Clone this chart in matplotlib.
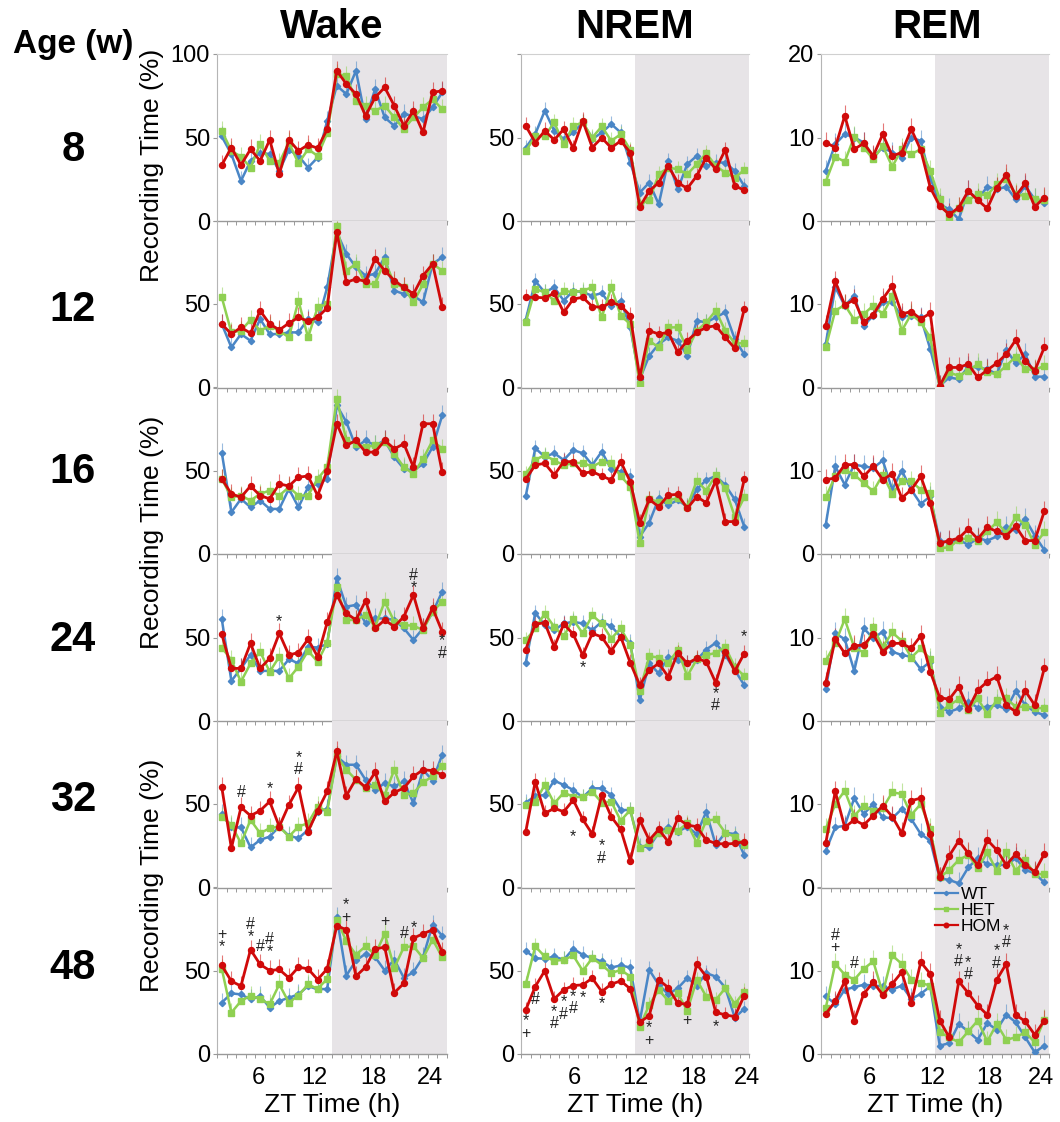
import matplotlib
matplotlib.use("Agg")
import matplotlib.pyplot as plt
from matplotlib.lines import Line2D

plt.rcParams['font.family'] = ['Liberation Sans', 'DejaVu Sans']

# ---------------- data ----------------
ages = ['8', '12', '16', '24', '32', '48']
states = ['Wake', 'NREM', 'REM']
genotypes = ['WT', 'HET', 'HOM']
zt = list(range(1, 25))
xtick_labels = ['6', '12', '18', '24']
# typical SEM shown as upper error bars, per state
sem_typ = {'Wake': 6.0, 'NREM': 5.0, 'REM': 1.3}

wake_wt = [
    [50.6, 40, 24, 36, 41, 40, 30, 42.6, 39, 32, 38, 60, 81, 76, 90, 61, 79, 62, 57, 64, 63, 61, 68, 77],
    [38, 24, 32, 28, 41, 32, 32, 33, 33, 41, 39, 60, 93, 80, 72, 67, 68, 78, 58, 56, 55, 51, 74, 78],
    [60.7, 25, 33, 28, 32, 27, 27, 39, 28, 40, 42, 45, 89, 79, 64, 68, 65, 68, 58, 51, 50, 54, 64, 83],
    [61, 24, 31.5, 39.5, 30, 30, 30, 37, 34.5, 44.5, 44, 46, 85.4, 68.5, 69.5, 58.5, 61.4, 61.4, 60.5, 55.5, 48.5, 55.5, 65, 77.5],
    [44, 36, 36, 24, 28.5, 30.5, 36.5, 31, 29.5, 34.5, 45.5, 47, 78.5, 73.5, 73.5, 64.5, 58.5, 62.5, 60.5, 63.5, 50.5, 70.5, 64, 79.5],
    [30.8, 36.3, 35.7, 32.7, 34.7, 27.8, 31.7, 33.7, 35.7, 40.7, 38.7, 39, 82, 47, 56, 60, 58, 50, 56.5, 45.6, 49, 58, 77.4, 70.8],
]
wake_het = [
    [54, 42, 38.5, 32, 46, 36, 35, 47, 34.5, 43, 39, 52.6, 88, 87, 72, 69, 66, 69, 62, 55, 62, 68, 73, 67],
    [54, 33, 34, 40.5, 34, 37, 34, 30, 52, 30, 48, 50, 97, 70, 74, 62, 62, 76, 62, 60, 51, 62, 74, 70],
    [45, 34, 35, 32, 36, 38, 35, 40, 35, 35, 45, 52, 93, 68, 66, 64, 65, 67, 60, 52, 48, 57, 68, 63],
    [44, 36.5, 23.5, 34.5, 41.5, 29.5, 38.5, 25.5, 32.5, 42, 35.5, 47, 80, 60.5, 60.5, 63.5, 56.5, 71.5, 59.5, 57.5, 57, 54.5, 65.5, 71.5],
    [42.5, 37.5, 26.5, 40.5, 32.5, 35.5, 36.5, 30.5, 36.5, 38.5, 48.5, 45.5, 78.5, 70.5, 64.5, 59.5, 61.5, 55.5, 70.5, 55.5, 56.5, 63, 66.5, 73],
    [51, 24.8, 31.7, 35, 33, 29.8, 41.7, 30.8, 35, 41.7, 39, 45, 80.4, 67.5, 59.5, 64.5, 59.5, 72, 51.6, 64, 64.5, 57.5, 68.5, 58],
]
wake_hom = [
    [33.5, 44, 33.5, 43, 36, 48.6, 28, 48.6, 42, 45.6, 43.6, 55, 90, 82, 76, 63, 74, 80, 69, 57, 66, 53, 77, 78],
    [38, 32, 36, 32.5, 46, 38, 34.5, 38.5, 42, 39.7, 42, 47.7, 93, 63, 65, 63.5, 77, 70, 64, 60, 56, 67, 74, 48],
    [45, 36, 34, 40.7, 35, 33, 42, 40.7, 46, 46.7, 35, 50, 78, 65, 68, 61, 61, 68, 63, 66, 52, 78, 78, 49],
    [52, 31.5, 31.5, 46.5, 31.5, 37.5, 52.5, 39.5, 41, 49, 38.5, 59, 75.5, 64.5, 60.5, 72, 55.5, 60.5, 56.5, 62.5, 75.5, 55.5, 67.5, 53.5],
    [60, 23.5, 48, 43, 46, 51.5, 36.5, 49.5, 60, 33.5, 46, 57.5, 81.5, 55, 65, 60, 69, 51.5, 57, 59.5, 66.5, 70.5, 70, 67.5],
    [53, 43.6, 40.7, 62.5, 53.6, 50, 50.6, 45.6, 52, 51, 44.6, 51, 76.8, 74.4, 46.6, 52, 62.9, 64, 36.7, 42.3, 69.4, 72, 74.4, 61],
]
nrem_wt = [
    [43.8, 52, 66, 54, 49, 53, 59, 49, 53, 58, 53, 35, 17, 23, 10, 36, 19, 34, 39, 33, 35, 35, 30, 21],
    [40.5, 63.7, 57, 60, 52, 58, 57, 55, 56.5, 49, 52, 36, 5, 19, 26, 30, 28, 19, 40, 39, 42, 45, 29, 19.8],
    [34.7, 63.3, 58.3, 60.3, 56.3, 62.3, 60.3, 53.3, 61.3, 50.7, 49.3, 46.7, 10.4, 18.8, 33.3, 29.3, 32.3, 28.3, 38.7, 44.3, 46.7, 41.3, 32.7, 16.4],
    [34.9, 64.7, 57.4, 54.4, 58.4, 59.4, 58.4, 54.4, 59.4, 56.8, 50.4, 46.8, 12.5, 34.5, 28.5, 38.4, 36.5, 34.5, 36.5, 42.8, 46.8, 39.4, 30.5, 21.5],
    [50.8, 54.8, 55.4, 64, 61.4, 58.4, 54, 59.4, 59.4, 55.4, 46.4, 46.4, 24.4, 24.4, 32.8, 36.4, 33.4, 36.4, 32, 45.4, 25.4, 32.8, 32, 19.4],
    [61.8, 57.4, 57, 58.4, 56.4, 63, 59.4, 57.4, 55.4, 51.8, 53, 51.8, 19.4, 50.4, 41.4, 35.8, 39.4, 45.4, 41, 48.4, 46.4, 39.8, 21.8, 27],
]
nrem_het = [
    [42, 50.6, 51, 59, 46, 57, 59, 50, 56.6, 48, 52, 42.6, 10, 12.4, 28, 32, 31, 28, 34, 40.6, 33, 29, 26, 30.5],
    [39, 59, 57, 52, 58, 57, 58, 60, 42, 60, 43, 38, 2.2, 28, 24, 36, 36, 22.5, 34, 39, 46, 34, 26.5, 26.5],
    [47.9, 56.3, 59.3, 55.9, 53.3, 54.3, 54.7, 52.3, 55.3, 54.3, 46.7, 40.3, 6.4, 32.7, 31.3, 32.3, 33.3, 28.3, 43.9, 37.9, 47.3, 39.3, 22.4, 33.9],
    [48.4, 55.4, 64.3, 56.4, 50.8, 60.8, 52.4, 63.3, 58.4, 49.4, 55.4, 45.4, 18.1, 38.8, 38, 34.9, 42.4, 26.9, 36.9, 39.4, 40.8, 44.4, 32.5, 26.9],
    [49.4, 51.4, 61.4, 50.4, 56.8, 54.4, 54, 57.4, 50.8, 51.4, 40, 46.4, 23.4, 26.4, 32.4, 34.4, 34, 38.4, 26.8, 40, 40.8, 32.8, 30.4, 25.4],
    [41.8, 64.4, 58.4, 55.8, 56.4, 59, 49.8, 57.4, 53.4, 48.4, 50.4, 46.4, 16.4, 29.4, 38.4, 31.8, 36.4, 25.8, 44.4, 34.4, 32.4, 39.4, 29.8, 37.4],
]
nrem_hom = [
    [57, 47, 54, 48.6, 55, 43.6, 60, 44, 49.8, 43.8, 48, 41, 8.4, 18, 23, 33, 23, 19.5, 27, 38, 31, 42.6, 21, 18.5],
    [54, 54, 53.7, 56.5, 45, 53, 54, 48.5, 48, 51, 49, 43, 6.2, 34, 32, 33, 21, 28, 33, 36, 37, 30, 23.5, 47],
    [44.7, 53.3, 54.3, 47.3, 55.3, 55.3, 48.3, 49.3, 46.7, 44.3, 55.3, 43.3, 18.8, 32.7, 28.3, 35.3, 35.7, 27.3, 34.3, 30.7, 43.9, 19.4, 19.4, 44.7],
    [42.8, 58, 58.8, 44.4, 58, 52, 39.4, 52.4, 50.4, 42, 50.4, 34.9, 21.5, 30.5, 34.5, 26.5, 40.8, 34.5, 37.5, 35.5, 22.9, 41.4, 29.9, 40.4],
    [33.4, 63.4, 44.4, 47.4, 45.4, 52.4, 40.8, 32, 55.4, 42.4, 34.8, 16, 40.4, 28.4, 34.8, 27.4, 41.4, 37.4, 36.4, 28.4, 26.4, 26, 26.4, 27.4],
    [26.4, 40.4, 49.8, 33, 38.4, 41, 41.4, 45.4, 37.4, 41.8, 43.8, 39, 19, 23, 44.4, 39.8, 30.4, 29.8, 53.8, 46.4, 25, 23.4, 22.4, 35],
]
rem_wt = [
    [6, 9.2, 10.4, 10, 9.4, 7.7, 8.8, 8.2, 7.6, 10, 9.6, 5.2, 2, 1.4, 0.2, 3.6, 2.6, 4.1, 3.8, 4.1, 2.6, 4.2, 2.6, 2.1],
    [5.2, 12, 9.8, 11, 7.4, 8.6, 10.2, 10.2, 8.5, 8.6, 8.4, 4.6, 0.2, 1.2, 1, 2.5, 2.4, 2.2, 1.6, 4.5, 2.9, 4, 1.3, 1.3],
    [3.5, 10.5, 8.3, 10.7, 10.5, 10.3, 11.2, 7.7, 10, 7.7, 6, 6.9, 1.5, 1.4, 1.7, 1.1, 1.9, 1.6, 2.1, 3.2, 2.9, 4.2, 2.2, 0.5],
    [3.8, 10.5, 9.8, 6, 11.1, 9.9, 10.7, 8.3, 7.9, 7.7, 6.2, 7.1, 1.7, 1.1, 1.5, 2.3, 1.6, 1.7, 1.9, 1.4, 3.6, 1.9, 1.1, 0.7],
    [4.4, 7.2, 7.4, 10.7, 8.8, 10, 8.4, 8.3, 9.4, 8.2, 6.4, 5.6, 1.1, 0.9, 0.5, 2.4, 3.5, 2.8, 2.7, 2.7, 3.5, 2.1, 1.7, 0.6],
    [6.9, 6, 7.7, 8, 8.3, 8.2, 8.1, 7.7, 8.2, 6.6, 7.2, 8.1, 1, 1.3, 3.6, 2.7, 1.7, 3.7, 2.9, 4.7, 3.8, 2, 0.2, 1],
]
rem_het = [
    [4.7, 7.7, 7.1, 10.1, 8.8, 7.4, 9, 6.5, 8.6, 8, 8.6, 6, 2.6, 0.4, 1.6, 2.5, 3.2, 3.1, 4.4, 5, 3.2, 3, 2.6, 2.5],
    [4.8, 9.2, 9.9, 8.1, 8.8, 9.8, 8.8, 10.9, 6.8, 8.8, 7.8, 6, 0, 1.8, 1.4, 2, 2.8, 1.8, 1.6, 2.6, 3.7, 2.2, 2.1, 2.6],
    [6.8, 9.3, 10.1, 9.5, 8.5, 7.5, 9.5, 7.2, 8.7, 8.7, 7.7, 7.3, 0.7, 0.8, 1.7, 1.9, 1.6, 2.7, 3.8, 2.5, 4.4, 3.5, 1.1, 2.6],
    [7.2, 9.3, 12.2, 8.8, 8.2, 11.2, 8.9, 10.6, 9.6, 7.6, 8.7, 7.4, 1, 1.9, 2.6, 1.3, 2.7, 0.8, 2.5, 2.7, 1.7, 1.7, 1.6, 1.5],
    [7, 10, 11.6, 8.6, 9.8, 9.2, 9.5, 11.4, 11.2, 8.7, 10, 7, 1.2, 2.1, 3.3, 3.9, 2.3, 4.2, 2, 4.2, 2, 3.3, 1.6, 1.6],
    [5.5, 10.8, 9.5, 8.9, 10.2, 11.1, 7.3, 11.8, 10.8, 8.9, 8.5, 8.2, 2.6, 2, 1.4, 2.7, 4, 1.5, 3.6, 1.7, 2, 2.6, 1.4, 4.1],
]
rem_hom = [
    [9.4, 8.8, 12.6, 8.6, 9.3, 7.8, 10.4, 7.8, 8.2, 11, 8.5, 4, 1.8, 0.8, 1.6, 3.6, 2.5, 1.5, 4, 5.5, 3, 4.5, 1.7, 2.8],
    [7.4, 12.7, 9.9, 10.5, 7.8, 8.7, 10.6, 12.2, 8.8, 9.1, 8.2, 8.9, 0.2, 2.4, 2.4, 2.8, 1.2, 2.1, 2.9, 4, 5.7, 3.2, 2, 4.8],
    [8.9, 9.1, 10.7, 10.7, 9.3, 10.5, 8.9, 9.6, 6.7, 7.7, 9.3, 6.1, 1.3, 1.6, 1.9, 3, 1.8, 3.2, 2.7, 2.2, 3.3, 1.6, 1.6, 5.1],
    [4.6, 9.8, 8.1, 9, 9.1, 10.4, 8.3, 9.3, 9.3, 8.7, 10.2, 5.9, 2.8, 2.6, 4.1, 1.4, 3.7, 4.7, 5.3, 1.9, 1.1, 3.6, 1.9, 6.3],
    [5.3, 11.5, 7.2, 8.1, 7.5, 8.6, 9.8, 8.5, 6.5, 10.4, 10.7, 6.4, 1.2, 3.8, 5.6, 4.1, 2.7, 5.7, 4.5, 2.7, 4, 2.7, 1.9, 4],
    [4.8, 6.3, 8.7, 4, 7.2, 8.6, 7.1, 8.4, 9.8, 6.1, 11, 9.6, 4, 2, 8.7, 7.3, 5.8, 4.7, 8.9, 10.8, 4.7, 3.9, 2.3, 4],
]

# significance marks: (state, age row, ZT hour, y value, symbol)
sig_marks = [
    ('Wake', 3, 7, 62, '*'), ('Wake', 3, 21, 90, '#'), ('Wake', 3, 21, 82.4, '*'),
    ('Wake', 3, 24, 48, '*'), ('Wake', 3, 24, 42, '#'),
    ('Wake', 4, 3, 57, '#'), ('Wake', 4, 6, 61.5, '*'), ('Wake', 4, 9, 78.5, '*'), ('Wake', 4, 9, 71.5, '#'),
    ('Wake', 5, 1, 73.4, '+'), ('Wake', 5, 1, 67.5, '*'), ('Wake', 5, 4, 80.4, '#'), ('Wake', 5, 4, 72.4, '*'),
    ('Wake', 5, 5, 64.5, '#'), ('Wake', 5, 6, 71.4, '#'), ('Wake', 5, 6, 63.5, '*'),
    ('Wake', 5, 14, 89, '*'), ('Wake', 5, 14, 84, '+'), ('Wake', 5, 18, 79.4, '+'),
    ('Wake', 5, 20, 72.4, '#'), ('Wake', 5, 21, 78.4, '*'),
    ('NREM', 3, 7, 34.5, '*'), ('NREM', 3, 21, 17.5, '*'), ('NREM', 3, 21, 10, '#'), ('NREM', 3, 24, 52.8, '*'),
    ('NREM', 4, 6, 32.8, '*'), ('NREM', 4, 9, 25.4, '*'), ('NREM', 4, 9, 18.4, '#'),
    ('NREM', 5, 1, 19.8, '*'), ('NREM', 5, 1, 14.4, '+'), ('NREM', 5, 2, 32.4, '#'),
    ('NREM', 5, 4, 26.4, '*'), ('NREM', 5, 4, 19, '#'), ('NREM', 5, 5, 31.4, '*'), ('NREM', 5, 5, 25, '#'),
    ('NREM', 5, 6, 35.4, '*'), ('NREM', 5, 6, 27.8, '#'), ('NREM', 5, 7, 36.2, '*'), ('NREM', 5, 9, 32.4, '*'),
    ('NREM', 5, 14, 15.8, '*'), ('NREM', 5, 14, 9.8, '+'), ('NREM', 5, 18, 19.8, '+'), ('NREM', 5, 21, 19, '*'),
    ('REM', 5, 2, 14.1, '#'), ('REM', 5, 2, 12.9, '+'), ('REM', 5, 4, 10.8, '#'),
    ('REM', 5, 15, 12.6, '*'), ('REM', 5, 15, 11.3, '#'), ('REM', 5, 16, 11.1, '*'), ('REM', 5, 16, 9.7, '#'),
    ('REM', 5, 19, 12.5, '*'), ('REM', 5, 19, 11.0, '#'), ('REM', 5, 20, 14.9, '*'), ('REM', 5, 20, 13.5, '#'),
]

data = {
    'Wake': {'WT': wake_wt, 'HET': wake_het, 'HOM': wake_hom},
    'NREM': {'WT': nrem_wt, 'HET': nrem_het, 'HOM': nrem_hom},
    'REM': {'WT': rem_wt, 'HET': rem_het, 'HOM': rem_hom},
}

# ---------------- style / layout ----------------
W, H = 1060, 1122
fig = plt.figure(figsize=(W / 100, H / 100), dpi=100)

colors = {'WT': '#4a86c6', 'HET': '#8fd052', 'HOM': '#d00a0a'}
markers = {'WT': 'D', 'HET': 's', 'HOM': 'o'}
msizes = {'WT': 3.2, 'HET': 4.0, 'HOM': 4.3}
lws = {'WT': 1.8, 'HET': 1.8, 'HOM': 2.0}
shade = '#e7e4e7'
col_px = [(217, 447), (521, 749), (821, 1049)]
row_top = [54, 220.5, 387, 554, 720.5, 887]
row_h = 167
ymax = {'Wake': 100, 'NREM': 100, 'REM': 20}
xtick_pos = {'Wake': [4.3, 10.2, 16.3, 22.2], 'NREM': [5.6, 12.0, 18.1, 23.8], 'REM': [5.05, 11.7, 17.7, 23.2]}


def fx(x):
    return x / W


def fy(y):
    return 1 - y / H


xs = [z - 0.5 for z in zt]
axes = {}
for c, state in enumerate(states):
    x0, x1 = col_px[c]
    for r in range(6):
        ax = fig.add_axes([fx(x0), fy(row_top[r] + row_h), (x1 - x0) / W, row_h / H])
        axes[(state, r)] = ax
        ax.set_facecolor('none')
        top = ymax[state]
        ax.set_xlim(0, 24)
        ax.set_ylim(0, top)
        ax.axvspan(12, 24, color=shade, lw=0, zorder=0)
        sem = sem_typ[state]
        for g in genotypes:
            vals = data[state][g][r]
            ax.vlines(xs, vals, [v + sem for v in vals], color=colors[g], lw=0.8, alpha=0.55, zorder=2)
            ax.plot(xs, vals, color=colors[g], marker=markers[g], ms=msizes[g], lw=lws[g],
                    mec=colors[g], zorder=3, label=g)
        # y axis
        ax.set_yticks([0, top / 2, top])
        if r == 0 and state != 'NREM':
            ylabels = ['0', f'{top // 2:d}', f'{top:d}']
        else:
            ylabels = ['0', f'{top // 2:d}', '']
        ax.set_yticklabels(ylabels)
        ax.tick_params(axis='y', direction='out', length=3, width=0.8, colors='#999999',
                       labelcolor='black', labelsize=17, pad=2)
        # x axis
        ax.set_xticks(range(25), minor=True)
        ax.tick_params(axis='x', which='minor', direction='out', length=3, width=0.7, colors='#999999')
        ax.set_xticks(xtick_pos[state])
        if r == 5:
            ax.set_xticklabels(xtick_labels)
        else:
            ax.set_xticklabels([])
        ax.tick_params(axis='x', which='major', length=0, labelsize=17, pad=9)
        ax.spines['right'].set_visible(False)
        ax.spines['left'].set_color('#b5b5b5')
        ax.spines['left'].set_linewidth(0.8)
        ax.spines['bottom'].set_color('#999999')
        ax.spines['bottom'].set_linewidth(1.0)
        if r == 0:
            ax.spines['top'].set_color('#d0d0d0')
            ax.spines['top'].set_linewidth(0.8)
        else:
            ax.spines['top'].set_visible(False)
        if r == 5:
            ax.set_xlabel('ZT Time (h)', fontsize=19, labelpad=3)

# significance marks: symbols stacked at the same hour are drawn as one text block
groups = {}
for state, r, hour, yv, sym in sig_marks:
    groups.setdefault((state, r, hour), []).append((yv, sym))
for (state, r, hour), items in groups.items():
    ax = axes[(state, r)]
    items = sorted(items, key=lambda t: -t[0])
    ymid = sum(t[0] for t in items) / len(items)
    txt = '\n'.join(t[1] for t in items)
    dy = -3.0 if items[-1][1] == '*' else (-1.0 if '*' in txt else 0.0)
    ax.annotate(txt, (hour - 0.5, ymid), xytext=(0, dy), textcoords='offset points',
                ha='center', va='center', ma='center', fontsize=11.5, linespacing=0.78,
                color='#222222', zorder=5)

# legend in REM 48w panel
axL = axes[('REM', 5)]
handles = [Line2D([0], [0], color=colors[g], marker=markers[g], ms=msizes[g] - 1, lw=1.6) for g in genotypes]
axL.legend(handles, genotypes, loc='upper left', bbox_to_anchor=(0.5, 1.0), frameon=False,
           fontsize=12.5, handlelength=1.3, handletextpad=0.2, labelspacing=0.05,
           borderpad=0, borderaxespad=0)

# titles & labels
title_x = [332, 635, 937]
for c, state in enumerate(states):
    fig.text(fx(title_x[c]), fy(27), state, ha='center', va='center', fontsize=29, fontweight='bold')
fig.text(fx(73), fy(45), 'Age (w)', ha='center', va='center', fontsize=24, fontweight='bold')
age_y = [150, 310, 472, 640, 800, 968]
for a, yy in zip(ages, age_y):
    fig.text(fx(73), fy(yy), a, ha='center', va='center', fontsize=30, fontweight='bold')
for yy in [165, 532, 875]:
    fig.text(fx(152), fy(yy), 'Recording Time (%)', rotation=90, ha='center', va='center', fontsize=19)

fig.savefig('out.png', dpi=100)
